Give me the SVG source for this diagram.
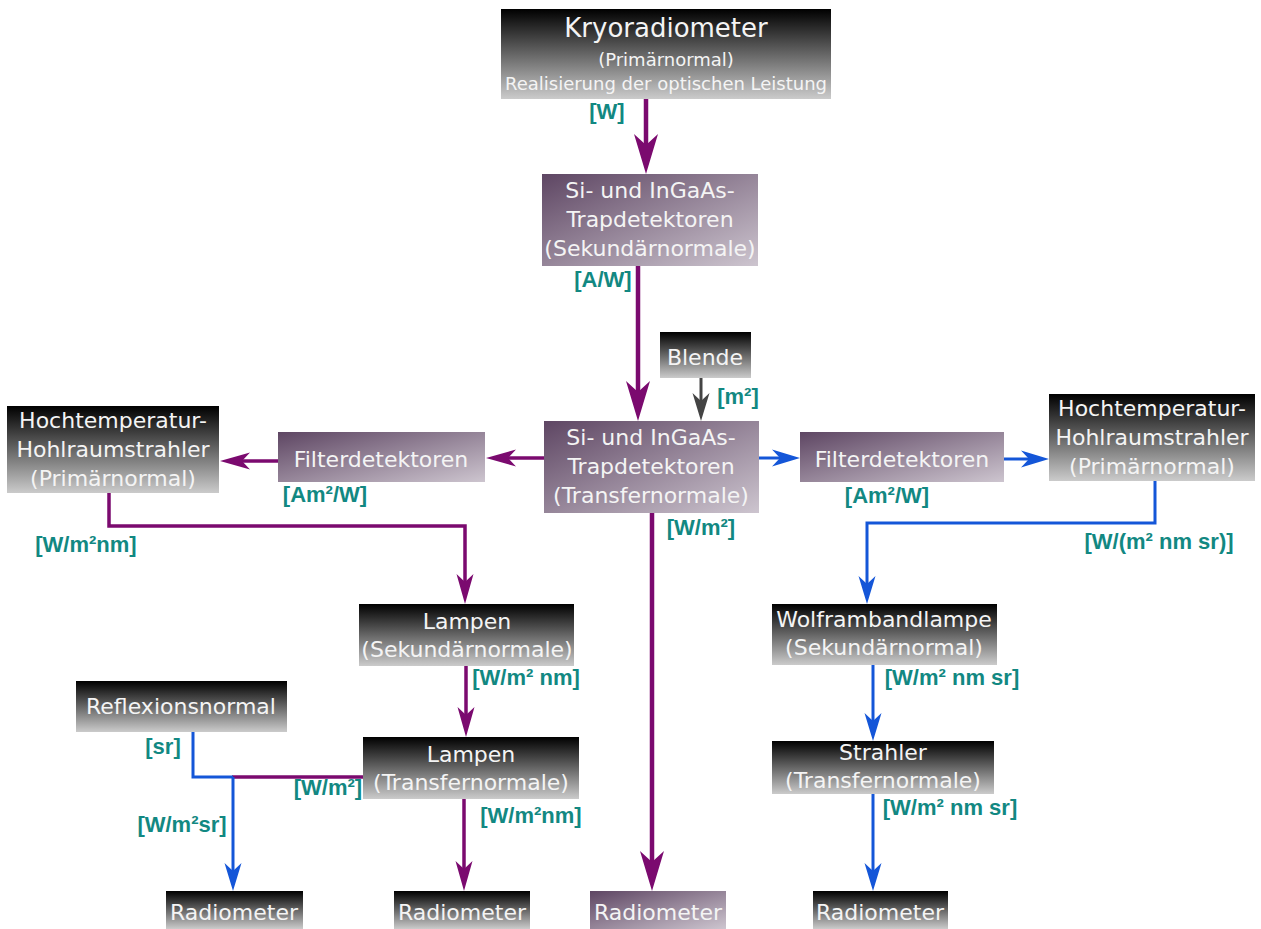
<svg xmlns="http://www.w3.org/2000/svg" width="1261" height="929" viewBox="0 0 1261 929">
<defs>
<linearGradient id="gBlack" x1="0" y1="0" x2="0" y2="1">
<stop offset="0" stop-color="#000"/>
<stop offset="1" stop-color="#cbcbcb"/>
</linearGradient>
<linearGradient id="gPurple" x1="0" y1="0" x2="1" y2="1">
<stop offset="0" stop-color="#5e4663"/>
<stop offset="1" stop-color="#cdc5cf"/>
</linearGradient>
<marker id="aBigP" markerUnits="userSpaceOnUse" orient="auto" refX="0" refY="0" markerWidth="60" markerHeight="60" overflow="visible">
<path d="M29,0 L-11,-12 L0,0 L-11,12 Z" fill="#7b0a6f"/>
</marker>
<marker id="aMedP" markerUnits="userSpaceOnUse" orient="auto" refX="0" refY="0" markerWidth="40" markerHeight="40" overflow="visible">
<path d="M22,0 L-8,-8.5 L0,0 L-8,8.5 Z" fill="#7b0a6f"/>
</marker>
<marker id="aBlue" markerUnits="userSpaceOnUse" orient="auto" refX="0" refY="0" markerWidth="40" markerHeight="40" overflow="visible">
<path d="M20,0 L-8,-8.5 L0,0 L-8,8.5 Z" fill="#1456d8"/>
</marker>
<marker id="aGray" markerUnits="userSpaceOnUse" orient="auto" refX="0" refY="0" markerWidth="40" markerHeight="40" overflow="visible">
<path d="M20,0 L-8,-8.5 L0,0 L-8,8.5 Z" fill="#444"/>
</marker>
</defs>
<style>
.nb{fill:url(#gBlack);}
.np{fill:url(#gPurple);}
.t{font-family:"DejaVu Sans","Noto Sans",sans-serif;font-size:22px;fill:#f4f4f4;text-anchor:middle;}
.tk{font-size:26px;}
.ts{font-size:18px;}
.lbl{font-family:"Liberation Sans",Arial,sans-serif;font-weight:bold;font-size:22px;fill:#128882;text-anchor:middle;}
.cp{fill:none;stroke:#7b0a6f;stroke-width:3.5;}
.cpb{fill:none;stroke:#7b0a6f;stroke-width:4.5;}
.cb{fill:none;stroke:#1456d8;stroke-width:3;}
.cg{fill:none;stroke:#444;stroke-width:3;}
</style>
<rect width="1261" height="929" fill="#fff"/>

<g id="connectors">
<path class="cpb" d="M646,99 V145" marker-end="url(#aBigP)"/>
<path class="cpb" d="M638,266 V392" marker-end="url(#aBigP)"/>
<path class="cg" d="M701,378 V401" marker-end="url(#aGray)"/>
<path class="cp" d="M544,458 H508" marker-end="url(#aMedP)"/>
<path class="cp" d="M278,461 H242" marker-end="url(#aMedP)"/>
<path class="cp" d="M109,493 V526 H465 V582" marker-end="url(#aMedP)"/>
<path class="cb" d="M759,458 H780" marker-end="url(#aBlue)"/>
<path class="cb" d="M1004,459 H1029" marker-end="url(#aBlue)"/>
<path class="cb" d="M1155,481 V523 H867 V584" marker-end="url(#aBlue)"/>
<path class="cpb" d="M652,513 V862" marker-end="url(#aBigP)"/>
<path class="cp" d="M466,666 V715" marker-end="url(#aMedP)"/>
<path class="cp" d="M464,799 V869" marker-end="url(#aMedP)"/>
<path class="cp" d="M232,777 H363"/>
<path class="cb" d="M193,732 V777 H233"/>
<path class="cb" d="M233,777 V871" marker-end="url(#aBlue)"/>
<path class="cb" d="M873,665 V721" marker-end="url(#aBlue)"/>
<path class="cb" d="M873,794 V871" marker-end="url(#aBlue)"/>
</g>

<g id="labels">
<text class="lbl" x="607" y="119">[W]</text>
<text class="lbl" x="603" y="287">[A/W]</text>
<text class="lbl" x="738" y="404">[m²]</text>
<text class="lbl" x="701" y="535">[W/m²]</text>
<text class="lbl" x="325" y="502">[Am²/W]</text>
<text class="lbl" x="86" y="552">[W/m²nm]</text>
<text class="lbl" x="887" y="503">[Am²/W]</text>
<text class="lbl" x="1159" y="549">[W/(m² nm sr)]</text>
<text class="lbl" x="526" y="685">[W/m² nm]</text>
<text class="lbl" x="163" y="754">[sr]</text>
<text class="lbl" x="328" y="795">[W/m²]</text>
<text class="lbl" x="531" y="823">[W/m²nm]</text>
<text class="lbl" x="182" y="832">[W/m²sr]</text>
<text class="lbl" x="952" y="685">[W/m² nm sr]</text>
<text class="lbl" x="950" y="815">[W/m² nm sr]</text>
</g>

<g id="kryoradiometer">
<rect class="nb" x="501" y="9" width="330" height="90"/>
<text class="t tk" x="666" y="37">Kryoradiometer</text>
<text class="t ts" x="666" y="66">(Primärnormal)</text>
<text class="t ts" x="666" y="90">Realisierung der optischen Leistung</text>
</g>

<g id="trap-sekundaer">
<rect class="np" x="542" y="174" width="216" height="92"/>
<text class="t" x="650" y="198">Si- und InGaAs-</text>
<text class="t" x="650" y="227">Trapdetektoren</text>
<text class="t" x="650" y="256">(Sekundärnormale)</text>
</g>

<g id="blende">
<rect class="nb" x="660" y="332" width="91" height="46"/>
<text class="t" x="705" y="365">Blende</text>
</g>

<g id="trap-transfer">
<rect class="np" x="544" y="421" width="215" height="92"/>
<text class="t" x="651" y="445">Si- und InGaAs-</text>
<text class="t" x="651" y="474">Trapdetektoren</text>
<text class="t" x="651" y="503">(Transfernormale)</text>
</g>

<g id="filter-links">
<rect class="np" x="278" y="432" width="207" height="50"/>
<text class="t" x="381" y="467">Filterdetektoren</text>
</g>

<g id="hochtemp-links">
<rect class="nb" x="7" y="406" width="212" height="87"/>
<text class="t" x="113" y="428">Hochtemperatur-</text>
<text class="t" x="113" y="457">Hohlraumstrahler</text>
<text class="t" x="113" y="486">(Primärnormal)</text>
</g>

<g id="filter-rechts">
<rect class="np" x="800" y="432" width="204" height="50"/>
<text class="t" x="902" y="467">Filterdetektoren</text>
</g>

<g id="hochtemp-rechts">
<rect class="nb" x="1049" y="394" width="206" height="87"/>
<text class="t" x="1152" y="416">Hochtemperatur-</text>
<text class="t" x="1152" y="445">Hohlraumstrahler</text>
<text class="t" x="1152" y="474">(Primärnormal)</text>
</g>

<g id="lampen-sekundaer">
<rect class="nb" x="359" y="604" width="215" height="62"/>
<text class="t" x="467" y="629">Lampen</text>
<text class="t" x="467" y="657">(Sekundärnormale)</text>
</g>

<g id="lampen-transfer">
<rect class="nb" x="363" y="737" width="216" height="62"/>
<text class="t" x="471" y="762">Lampen</text>
<text class="t" x="471" y="790">(Transfernormale)</text>
</g>

<g id="reflexionsnormal">
<rect class="nb" x="76" y="681" width="211" height="51"/>
<text class="t" x="181" y="714">Reflexionsnormal</text>
</g>

<g id="wolframbandlampe">
<rect class="nb" x="772" y="604" width="225" height="61"/>
<text class="t" x="884" y="627">Wolframbandlampe</text>
<text class="t" x="884" y="655">(Sekundärnormal)</text>
</g>

<g id="strahler">
<rect class="nb" x="772" y="741" width="222" height="53"/>
<text class="t" x="883" y="760">Strahler</text>
<text class="t" x="883" y="788">(Transfernormale)</text>
</g>

<g id="radiometer-1">
<rect class="nb" x="166" y="891" width="137" height="38"/>
<text class="t" x="234" y="920">Radiometer</text>
</g>
<g id="radiometer-2">
<rect class="nb" x="394" y="891" width="136" height="38"/>
<text class="t" x="462" y="920">Radiometer</text>
</g>
<g id="radiometer-3">
<rect class="np" x="590" y="891" width="136" height="38"/>
<text class="t" x="658" y="920">Radiometer</text>
</g>
<g id="radiometer-4">
<rect class="nb" x="813" y="891" width="135" height="38"/>
<text class="t" x="880" y="920">Radiometer</text>
</g>
</svg>
